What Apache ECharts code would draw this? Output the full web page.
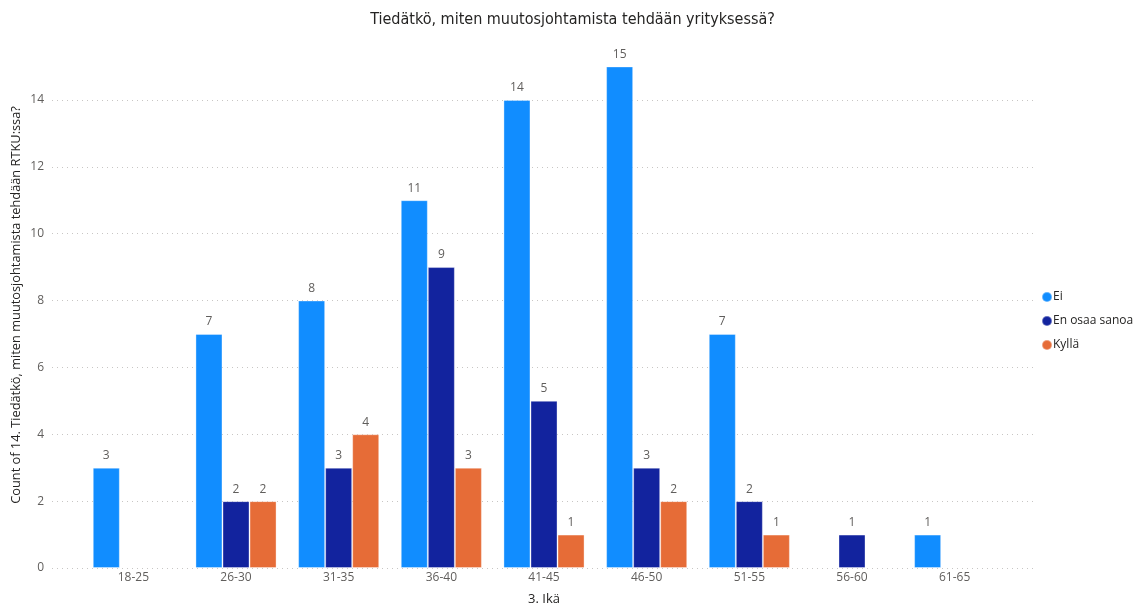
<!DOCTYPE html>
<html>
<head>
<meta charset="utf-8">
<script src="https://cdn.jsdelivr.net/npm/echarts@6/dist/echarts.min.js"></script>
<style>
  html, body { margin: 0; padding: 0; background: #ffffff; }
  #chart { width: 1145px; height: 604px; }
</style>
</head>
<body>
<div id="chart"></div>
<script>
// Age groups on the x axis
const categories = ['18-25', '26-30', '31-35', '36-40', '41-45', '46-50', '51-55', '56-60', '61-65'];
// Answer counts per age group (null = no answers)
const ei = [3, 7, 8, 11, 14, 15, 7, null, 1];
const enOsaaSanoa = [null, 2, 3, 9, 5, 3, 2, 1, null];
const kylla = [null, 2, 4, 3, 1, 2, 1, null, null];
const seriesNames = ['Ei', 'En osaa sanoa', 'Kyllä'];
const colors = ['#118DFF', '#12239E', '#E66C37'];
const yTicks = [0, 2, 4, 6, 8, 10, 12, 14];
const yAxisTitle = 'Count of 14. Tiedätkö, miten muutosjohtamista tehdään RTKU:ssa?';

const font = '"Open Sans", "Noto Sans", sans-serif';
const chart = echarts.init(document.getElementById('chart'), null, { renderer: 'canvas' });

const yMax = 16;
const labelStyle = { show: true, position: 'top', color: '#605E5C', fontFamily: font, fontSize: 12, distance: 6 };

function barSeries(name, data, color) {
  return {
    name: name,
    type: 'bar',
    xAxisIndex: 1,
    yAxisIndex: 1,
    data: data,
    barGap: '0%',
    barCategoryGap: '21%',
    itemStyle: { color: color, borderColor: 'rgba(255,255,255,0.35)', borderWidth: 1 },
    label: labelStyle,
    emphasis: { disabled: true }
  };
}

chart.setOption({
  animation: false,
  color: colors,
  title: {
    text: 'Tiedätkö, miten muutosjohtamista tehdään yrityksessä?',
    left: 'center',
    top: 7,
    textStyle: { fontFamily: '"DejaVu Sans Condensed", "Noto Sans", sans-serif', fontSize: 16, fontWeight: 'normal', color: '#252423' }
  },
  legend: {
    orient: 'vertical',
    left: 1036,
    top: 286,
    itemGap: 12,
    itemWidth: 10,
    itemHeight: 10,
    icon: 'circle',
    data: seriesNames,
    textStyle: { fontFamily: font, fontSize: 12, color: '#252423', padding: [0, 0, 0, -4] }
  },
  // rotated y axis title
  graphic: [{
    type: 'text',
    x: 16,
    y: 305,
    rotation: Math.PI / 2,
    style: {
      text: yAxisTitle,
      fontFamily: font,
      fontSize: 12.8,
      fill: '#252423',
      align: 'center',
      verticalAlign: 'middle'
    },
    silent: true
  }],
  grid: [
    // wide grid carrying the y scale and dotted gridlines
    { left: 52, right: 112, top: 33, bottom: 36, outerBoundsMode: 'none', containLabel: false },
    // inner grid holding the bars
    { left: 82, right: 139, top: 33, bottom: 36, outerBoundsMode: 'none', containLabel: false }
  ],
  xAxis: [
    { type: 'category', gridIndex: 0, data: categories, show: false },
    {
      type: 'category',
      gridIndex: 1,
      data: categories,
      name: '3. Ikä',
      nameLocation: 'middle',
      nameGap: 25,
      nameTextStyle: { fontFamily: font, fontSize: 13, color: '#252423' },
      axisLine: { show: false },
      axisTick: { show: false },
      axisLabel: { color: '#605E5C', fontFamily: font, fontSize: 12, margin: 4 }
    }
  ],
  yAxis: [
    {
      type: 'value',
      gridIndex: 0,
      min: 0,
      max: yMax,
      interval: 2,
      axisLine: { show: false },
      axisTick: { show: false },
      axisLabel: {
        color: '#605E5C', fontFamily: font, fontSize: 12, margin: 8,
        showMaxLabel: false,
        formatter: v => (yTicks.indexOf(v) >= 0 ? String(v) : '')
      },
      splitLine: { show: true, showMaxLine: false, lineStyle: { color: '#C8C6C4', type: [1, 4], width: 1 } }
    },
    { type: 'value', gridIndex: 1, min: 0, max: yMax, interval: 2, show: false, splitLine: { show: false } }
  ],
  series: [
    barSeries(seriesNames[0], ei, colors[0]),
    barSeries(seriesNames[1], enOsaaSanoa, colors[1]),
    barSeries(seriesNames[2], kylla, colors[2])
  ]
});
</script>
</body>
</html>
